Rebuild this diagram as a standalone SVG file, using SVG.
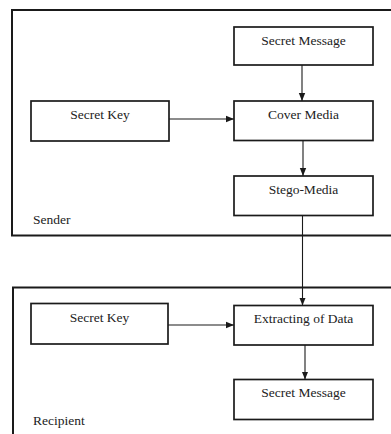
<svg xmlns="http://www.w3.org/2000/svg" width="391" height="434" viewBox="0 0 391 434">
<style>
.frame{fill:none;stroke:#1a1a1a;stroke-width:2}
.box{fill:#fff;stroke:#1a1a1a;stroke-width:1.7}
text{font-family:'Liberation Serif',Tinos,'Times New Roman',Times,serif;font-size:13.5px;fill:#222}
.mid{text-anchor:middle}
.conn{fill:none;stroke:#1a1a1a;stroke-width:1.1}
</style>
<defs>
<marker id="ah" markerUnits="userSpaceOnUse" markerWidth="8" markerHeight="8" viewBox="0 0 8 8" refX="8" refY="4" orient="auto">
<path d="M0,0.8 L8,4 L0,7.2 Z" fill="#1a1a1a"/>
</marker>
</defs>
<rect width="391" height="434" fill="#fff"/>
<g id="sender">
<rect class="frame" x="12" y="10" width="390" height="225.5"/>
<text x="33" y="224">Sender</text>
</g>
<g id="recipient">
<rect class="frame" x="13" y="287.5" width="390" height="160"/>
<text x="33" y="425">Recipient</text>
</g>
<g id="secret-message-1">
<rect class="box" x="234" y="27" width="139" height="38"/>
<text class="mid" x="303.5" y="45">Secret Message</text>
</g>
<g id="secret-key-1">
<rect class="box" x="31" y="101" width="138" height="40"/>
<text class="mid" x="100" y="119">Secret Key</text>
</g>
<g id="cover-media">
<rect class="box" x="234" y="101" width="139" height="39.5"/>
<text class="mid" x="303.5" y="119">Cover Media</text>
</g>
<g id="stego-media">
<rect class="box" x="234" y="176" width="139" height="39.5"/>
<text class="mid" x="303.5" y="193.5">Stego-Media</text>
</g>
<g id="secret-key-2">
<rect class="box" x="31" y="303.5" width="137" height="40.5"/>
<text class="mid" x="99.5" y="321.5">Secret Key</text>
</g>
<g id="extracting">
<rect class="box" x="234" y="305.5" width="139" height="39.5"/>
<text class="mid" x="303.5" y="323">Extracting of Data</text>
</g>
<g id="secret-message-2">
<rect class="box" x="234" y="379.5" width="139" height="40"/>
<text class="mid" x="303.5" y="396.5">Secret Message</text>
</g>
<g id="connectors">
<line class="conn" x1="302" y1="65" x2="302" y2="101" marker-end="url(#ah)"/>
<line class="conn" x1="169" y1="119" x2="234" y2="119" marker-end="url(#ah)"/>
<line class="conn" x1="303" y1="140.5" x2="303" y2="176" marker-end="url(#ah)"/>
<line class="conn" x1="302.5" y1="215.5" x2="302.5" y2="305.5" marker-end="url(#ah)"/>
<line class="conn" x1="168" y1="325" x2="234" y2="325" marker-end="url(#ah)"/>
<line class="conn" x1="305" y1="345" x2="305" y2="379.5" stroke="#555" marker-end="url(#ah)"/>
</g>
</svg>
